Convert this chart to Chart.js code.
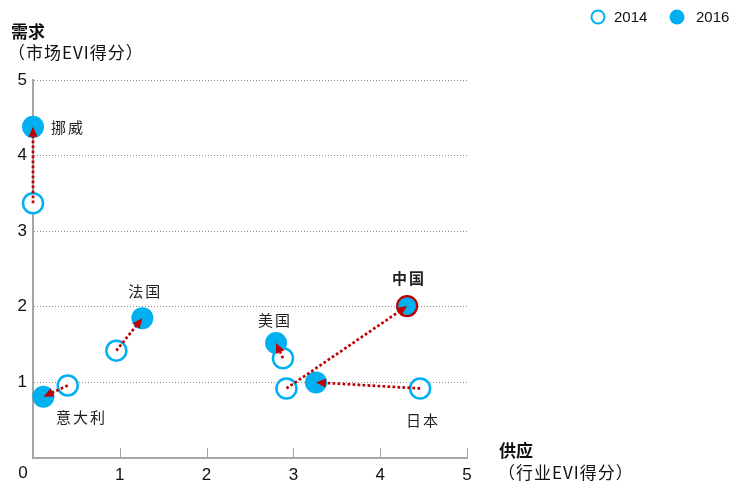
<!DOCTYPE html>
<html lang="zh">
<head>
    <meta charset="UTF-8">
    <title>EVI 供应与需求</title>
    <script src="https://cdn.jsdelivr.net/npm/chart.js"></script>
    <style>
        html, body {
            margin: 0;
            padding: 0;
            background: #ffffff;
        }
        #wrap {
            width: 733px;
            height: 481px;
            position: relative;
        }
    </style>
</head>
<body>
    <div id="wrap"><canvas id="chart"></canvas></div>
    <script>
        // Data
        const countries = ['挪威', '意大利', '法国', '美国', '中国', '日本'];
        const supply2014 = [0.00, 0.40, 0.96, 2.88, 2.92, 4.46];
        const demand2014 = [3.37, 0.96, 1.42, 1.32, 0.92, 0.92];
        const supply2016 = [0.00, 0.12, 1.26, 2.80, 4.31, 3.26];
        const demand2016 = [4.38, 0.81, 1.85, 1.52, 2.01, 1.00];
        const axisTicks = [0, 1, 2, 3, 4, 5];
        const years = ['2014', '2016'];

        const BLUE = '#00b0f0';
        const RED = '#c00000';
        const GREY = '#a6a6a6';
        const CJK = '"Noto Sans CJK SC", sans-serif';
        const LATIN = '"Liberation Sans", Arial, sans-serif';

        // where each country name sits relative to its 2016 point (pixels)
        const labelOffset = {
            '挪威': { dx: 35, dy: 0 },
            '意大利': { dx: 38, dy: 21 },
            '法国': { dx: 3, dy: -27 },
            '美国': { dx: -1, dy: -23 },
            '中国': { dx: 2, dy: -28, bold: true },
            '日本': { dx: 107, dy: 38 }
        };

        const pts14 = supply2014.map((x, i) => ({ x: x, y: demand2014[i] }));
        const pts16 = supply2016.map((x, i) => ({ x: x, y: demand2016[i] }));

        // arrows, labels, legend and axis titles
        const decorations = {
            id: 'decorations',
            afterDatasetsDraw(chart) {
                const ctx = chart.ctx;
                const xs = chart.scales.x;
                const ys = chart.scales.y;
                ctx.save();

                // dotted arrows 2014 -> 2016
                countries.forEach((c, i) => {
                    const x0 = xs.getPixelForValue(supply2014[i]);
                    const y0 = ys.getPixelForValue(demand2014[i]);
                    const x1 = xs.getPixelForValue(supply2016[i]);
                    const y1 = ys.getPixelForValue(demand2016[i]);
                    const ang = Math.atan2(y1 - y0, x1 - x0);
                    const head = 10;
                    const ex = x1 - Math.cos(ang) * head;
                    const ey = y1 - Math.sin(ang) * head;
                    ctx.strokeStyle = RED;
                    ctx.lineWidth = 2.7;
                    ctx.setLineDash([2.7, 2.3]);
                    ctx.beginPath();
                    ctx.moveTo(x0, y0);
                    ctx.lineTo(ex, ey);
                    ctx.stroke();
                    ctx.setLineDash([]);
                    ctx.fillStyle = RED;
                    ctx.beginPath();
                    ctx.moveTo(x1, y1);
                    ctx.lineTo(ex + Math.cos(ang + Math.PI / 2) * 4.5, ey + Math.sin(ang + Math.PI / 2) * 4.5);
                    ctx.lineTo(ex + Math.cos(ang - Math.PI / 2) * 4.5, ey + Math.sin(ang - Math.PI / 2) * 4.5);
                    ctx.closePath();
                    ctx.fill();
                });

                // country names
                ctx.fillStyle = '#222';
                ctx.textBaseline = 'middle';
                ctx.textAlign = 'center';
                ctx.letterSpacing = '2px';
                countries.forEach((c, i) => {
                    const o = labelOffset[c];
                    const x = xs.getPixelForValue(supply2016[i]) + o.dx;
                    const y = ys.getPixelForValue(demand2016[i]) + o.dy;
                    ctx.font = (o.bold ? 'bold ' : '') + '15px ' + CJK;
                    ctx.fillText(c, x, y);
                });

                // x tick marks pointing up into the plot
                ctx.letterSpacing = '0px';
                ctx.strokeStyle = GREY;
                ctx.lineWidth = 1;
                axisTicks.slice(1).forEach(v => {
                    const x = Math.round(xs.getPixelForValue(v)) + 0.5;
                    ctx.beginPath();
                    ctx.moveTo(x, ys.bottom);
                    ctx.lineTo(x, ys.bottom - 10);
                    ctx.stroke();
                });

                // the "0" in the corner
                ctx.fillStyle = '#111';
                ctx.font = '17px ' + LATIN;
                ctx.fillText('0', xs.left - 10, ys.bottom + 15);

                // axis titles
                ctx.textAlign = 'left';
                ctx.font = 'bold 17px ' + CJK;
                ctx.fillText('需求', 11, 32);
                ctx.fillText('供应', 499, 451);
                ctx.letterSpacing = '1px';
                ctx.font = '17px ' + CJK;
                ctx.fillText('（市场EVI得分）', 8, 53);
                ctx.fillText('（行业EVI得分）', 498, 473);
                ctx.letterSpacing = '0px';

                // legend
                ctx.lineWidth = 2;
                ctx.strokeStyle = BLUE;
                ctx.fillStyle = '#ffffff';
                ctx.beginPath();
                ctx.arc(598, 17, 6.5, 0, Math.PI * 2);
                ctx.fill();
                ctx.stroke();
                ctx.fillStyle = BLUE;
                ctx.beginPath();
                ctx.arc(677, 17, 7.5, 0, Math.PI * 2);
                ctx.fill();
                ctx.fillStyle = '#111';
                ctx.font = '15px ' + LATIN;
                ctx.fillText(years[0], 614, 18);
                ctx.fillText(years[1], 696, 18);

                ctx.restore();
            }
        };

        new Chart(document.getElementById('chart'), {
            type: 'scatter',
            data: {
                datasets: [
                    {
                        label: years[0],
                        data: pts14,
                        pointRadius: 10,
                        pointHoverRadius: 10,
                        pointBorderWidth: 2.5,
                        pointBorderColor: BLUE,
                        pointBackgroundColor: '#ffffff',
                        clip: false
                    },
                    {
                        label: years[1],
                        data: pts16,
                        pointRadius: countries.map(c => c === '中国' ? 10 : 11),
                        pointHoverRadius: 11,
                        pointBorderWidth: countries.map(c => c === '中国' ? 2.2 : 0),
                        pointBorderColor: countries.map(c => c === '中国' ? RED : BLUE),
                        pointBackgroundColor: BLUE,
                        clip: false
                    }
                ]
            },
            options: {
                responsive: true,
                maintainAspectRatio: false,
                animation: false,
                layout: {
                    padding: { left: 0, top: 80, right: 266, bottom: 0 }
                },
                plugins: {
                    legend: { display: false },
                    tooltip: { enabled: false }
                },
                scales: {
                    x: {
                        type: 'linear',
                        min: 0,
                        max: 5,
                        afterFit(scale) { scale.height = 23; },
                        afterBuildTicks(scale) { scale.ticks = axisTicks.map(v => ({ value: v })); },
                        grid: { display: false, drawTicks: false },
                        border: { display: true, color: GREY, width: 2 },
                        ticks: {
                            padding: 7,
                            color: '#111',
                            font: { family: LATIN, size: 17 },
                            callback: v => v === 0 ? '' : String(v)
                        }
                    },
                    y: {
                        type: 'linear',
                        min: 0,
                        max: 5,
                        afterFit(scale) { scale.width = 33; },
                        afterBuildTicks(scale) { scale.ticks = axisTicks.map(v => ({ value: v })); },
                        grid: {
                            drawTicks: false,
                            color: ctx => ctx.tick && ctx.tick.value === 0 ? 'rgba(0,0,0,0)' : '#8c8c8c',
                            lineWidth: 1
                        },
                        border: { display: true, color: GREY, width: 2, dash: [1, 2] },
                        ticks: {
                            padding: 6,
                            color: '#111',
                            font: { family: LATIN, size: 17 },
                            callback: v => v === 0 ? '' : String(v)
                        }
                    }
                }
            },
            plugins: [decorations]
        });
    </script>
</body>
</html>
